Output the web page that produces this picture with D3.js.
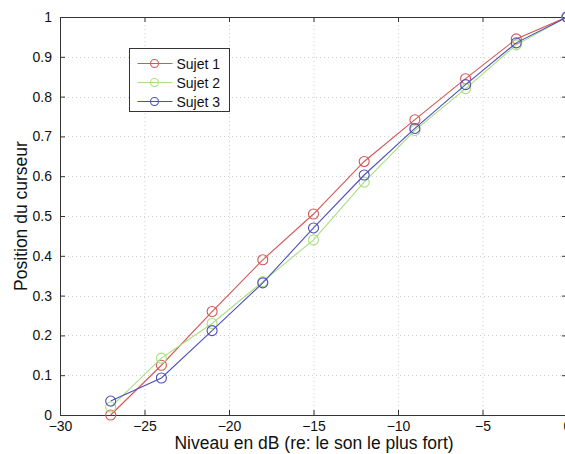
<!DOCTYPE html>
<html>
<head>
<meta charset="utf-8">
<script src="https://cdn.jsdelivr.net/npm/d3@7"></script>
<style>
  body { margin: 0; background: #fff; }
  svg { font-family: "Liberation Sans", Arial, sans-serif; }
</style>
</head>
<body>
<script>
// Data
const niveaux = [-27, -24, -21, -18, -15, -12, -9, -6, -3, 0];
const sujet1 = [0, 0.125, 0.26, 0.39, 0.505, 0.637, 0.742, 0.845, 0.945, 1];
const sujet2 = [0.02, 0.143, 0.23, 0.335, 0.44, 0.585, 0.715, 0.82, 0.93, 1];
const sujet3 = [0.035, 0.093, 0.212, 0.332, 0.47, 0.603, 0.72, 0.83, 0.935, 1];
const seriesNames = ['Sujet 1', 'Sujet 2', 'Sujet 3'];
const xTicks = [-30, -25, -20, -15, -10, -5, 0];
const yTicks = [0, 0.1, 0.2, 0.3, 0.4, 0.5, 0.6, 0.7, 0.8, 0.9, 1];

const colors = ['#d65656', '#a9df7c', '#4f4fbb'];
const series = [sujet1, sujet2, sujet3];

const width = 565, height = 454;
const margin = { left: 60, top: 17, right: -2, bottom: 39 };

const x = d3.scaleLinear().domain([-30, 0]).range([margin.left, width - margin.right]);
const y = d3.scaleLinear().domain([0, 1]).range([height - margin.bottom, margin.top]);

const svg = d3.select('body').append('svg')
  .attr('width', width)
  .attr('height', height);

const fmt = d => (d < 0 ? '\u2212' + Math.abs(d) : String(d));

// grid
const grid = svg.append('g')
  .attr('stroke', '#cfcfcf')
  .attr('stroke-width', 1)
  .attr('stroke-dasharray', '1,3');
grid.selectAll('.gx').data(xTicks.slice(1, -1)).enter().append('line')
  .attr('x1', d => x(d) + 0.5).attr('x2', d => x(d) + 0.5)
  .attr('y1', y(1)).attr('y2', y(0));
grid.selectAll('.gy').data(yTicks.slice(1, -1)).enter().append('line')
  .attr('y1', d => Math.round(y(d)) + 0.5).attr('y2', d => Math.round(y(d)) + 0.5)
  .attr('x1', x(-30)).attr('x2', x(0));

// axes
const xAxis = svg.append('g')
  .attr('transform', `translate(0,${y(0)})`)
  .call(d3.axisBottom(x).tickValues(xTicks).tickSizeInner(-5).tickSizeOuter(0).tickPadding(6).tickFormat(fmt));
const xTop = svg.append('g')
  .attr('transform', `translate(0,${y(1)})`)
  .call(d3.axisTop(x).tickValues(xTicks).tickSizeInner(-5).tickSizeOuter(0).tickFormat(''));
const yAxis = svg.append('g')
  .attr('transform', `translate(${x(-30)},0)`)
  .call(d3.axisLeft(y).tickValues(yTicks).tickSizeInner(-5).tickSizeOuter(0).tickPadding(8).tickFormat(d3.format('')));
const yRight = svg.append('g')
  .attr('transform', `translate(${x(0)},0)`)
  .call(d3.axisRight(y).tickValues(yTicks).tickSizeInner(-5).tickSizeOuter(0).tickFormat(''));

[xAxis, xTop, yAxis, yRight].forEach(g => {
  g.select('.domain').attr('stroke', '#333');
  g.selectAll('.tick line').attr('stroke', '#333');
  g.selectAll('.tick text').attr('fill', '#111').style('font-size', '14px');
});

// lines and markers
const line = d3.line().x((d, i) => x(niveaux[i])).y(d => y(d));
series.forEach((s, k) => {
  svg.append('path')
    .datum(s)
    .attr('fill', 'none')
    .attr('stroke', colors[k])
    .attr('stroke-width', 1.1)
    .attr('d', line);
  svg.append('g').selectAll('circle').data(s).enter().append('circle')
    .attr('cx', (d, i) => x(niveaux[i]))
    .attr('cy', d => y(d))
    .attr('r', 5)
    .attr('fill', 'none')
    .attr('stroke', colors[k])
    .attr('stroke-width', 1.1);
});

// legend
const lg = svg.append('g').attr('transform', 'translate(129.5,48.5)');
lg.append('rect').attr('width', 100).attr('height', 63)
  .attr('fill', '#fff').attr('stroke', '#333');
seriesNames.forEach((n, k) => {
  const yy = 15 + k * 19;
  lg.append('line').attr('x1', 8).attr('x2', 43).attr('y1', yy).attr('y2', yy)
    .attr('stroke', colors[k]).attr('stroke-width', 1.1);
  lg.append('circle').attr('cx', 25).attr('cy', yy).attr('r', 4)
    .attr('fill', 'none').attr('stroke', colors[k]).attr('stroke-width', 1.1);
  lg.append('text').attr('x', 47).attr('y', yy + 5)
    .style('font-size', '14px').attr('fill', '#111').text(n);
});

// axis labels
svg.append('text')
  .attr('x', 314).attr('y', 449)
  .attr('text-anchor', 'middle')
  .style('font-size', '17.5px').attr('fill', '#111')
  .text('Niveau en dB (re: le son le plus fort)');
svg.append('text')
  .attr('transform', `translate(27,${(y(0) + y(1)) / 2}) rotate(-90)`)
  .attr('text-anchor', 'middle')
  .style('font-size', '17.5px').attr('fill', '#111')
  .text('Position du curseur');
</script>
</body>
</html>
